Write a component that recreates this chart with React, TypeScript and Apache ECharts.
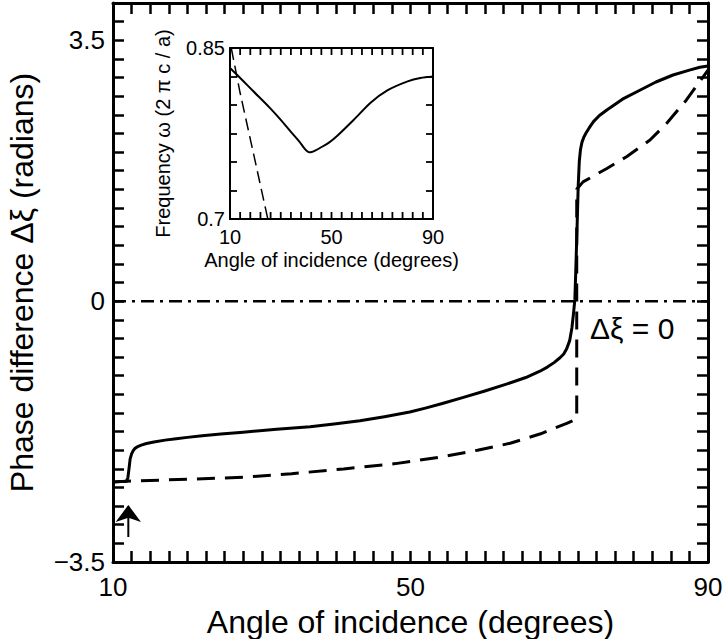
import React, { useEffect, useRef } from "react";
import * as echarts from "echarts";

const FONT = '"Liberation Sans", Arial, Helvetica, sans-serif';

// Main chart data
const mainSolidX = [10, 11.8, 12.0, 12.15, 12.3, 12.5, 12.75, 13.0, 13.4, 13.8, 14.5, 15.5, 17, 18.5, 20, 22, 24.5, 27.5, 32, 36.5, 40, 43.2, 46.5, 49.9, 52, 54.4, 57, 60, 63, 65.5, 67.4, 68.4, 69.3, 70.1, 70.6, 71.0, 71.4, 71.7, 71.9, 72.1, 72.25, 72.4, 72.55, 72.7, 72.85, 73.05, 73.3, 73.6, 74.0, 74.6, 75.4, 76.4, 78.5, 80.9, 83, 85.3, 87.5, 88.9, 90];
const mainSolidY = [-2.425, -2.415, -2.37, -2.25, -2.12, -2.05, -2.0, -1.972, -1.948, -1.932, -1.91, -1.89, -1.865, -1.845, -1.828, -1.805, -1.782, -1.758, -1.72, -1.685, -1.645, -1.604, -1.55, -1.488, -1.435, -1.37, -1.295, -1.205, -1.11, -1.025, -0.94, -0.885, -0.825, -0.76, -0.71, -0.64, -0.53, -0.36, -0.18, 0.02, 0.5, 1.0, 1.55, 1.88, 2.03, 2.13, 2.2, 2.255, 2.32, 2.408, 2.49, 2.565, 2.71, 2.833, 2.94, 3.034, 3.1, 3.138, 3.155];

const mainDashX = [10, 12.7, 20, 27.5, 34, 41, 48, 54.4, 59, 63.4, 67.5, 71.0, 72.35, 72.35, 73.2, 76.4, 79.05, 82.2, 84.45, 87.1, 89.35, 90];
const mainDashY = [-2.425, -2.413, -2.39, -2.363, -2.315, -2.252, -2.18, -2.087, -2.0, -1.907, -1.78, -1.64, -1.58, 1.5, 1.6, 1.78, 1.938, 2.162, 2.386, 2.699, 3.01, 3.1];

const zeroLineX = [10, 90];
const zeroLineY = [0, 0];

const arrowX = [12.06, 12.06];
const arrowY = [-3.165, -2.75];
const arrowHeadX = [12.06];
const arrowHeadY = [-2.735];

// Inset data
const insetSolidX = [10, 15, 19.2, 25.7, 30, 34, 37.5, 39, 40.2, 41.2, 42.2, 43.5, 45.6, 49, 52.3, 58.8, 65.4, 72, 80, 85, 90];
const insetSolidY = [0.8325, 0.8215, 0.812, 0.7975, 0.787, 0.7765, 0.7675, 0.7628, 0.7598, 0.7585, 0.7587, 0.76, 0.7625, 0.767, 0.773, 0.787, 0.802, 0.8128, 0.8207, 0.8237, 0.825];
const insetDashX = [10.5, 14, 19.2, 24.9];
const insetDashY = [0.85, 0.8105, 0.758, 0.7];

// Axis ranges
const mainXRange = [10, 90];
const mainYRange = [-3.5, 4];
const insetXRange = [10, 90];
const insetYRange = [0.7, 0.85];

// Tick labels and tick positions
const mainXLabels = [10, 50, 90];
const mainYLabelValues = [-3.5, 0, 3.5];
const mainYLabelTexts = ["\u22123.5", "0", "3.5"];
const insetXLabels = [10, 50, 90];
const insetXTicks = [10, 14, 18, 22, 26, 30, 34, 38, 42, 46, 50, 54, 58, 62, 66, 70, 74, 78, 82, 86, 90];
const insetYLabelValues = [0.7, 0.85];
const insetYLabelTexts = ["0.7", "0.85"];

const zip = (xs: number[], ys: number[]) => xs.map((x, i) => [x, ys[i]]);
const near = (a: number, b: number) => Math.abs(a - b) < 1e-6;

function xTickSeries(xi: number, yi: number, values: number[], yRange: number[], len: number, width: number) {
  return {
    type: "custom", xAxisIndex: xi, yAxisIndex: yi, clip: false, silent: true, z: 5,
    data: values.map((v) => [v, yRange[0]]),
    renderItem: (_p: any, api: any) => {
      const v = api.value(0);
      const a = api.coord([v, yRange[0]]);
      const b = api.coord([v, yRange[1]]);
      const style = { stroke: "#000", lineWidth: width, fill: null };
      return {
        type: "group",
        children: [
          { type: "line", shape: { x1: a[0], y1: a[1], x2: a[0], y2: a[1] - len }, style },
          { type: "line", shape: { x1: b[0], y1: b[1], x2: b[0], y2: b[1] + len }, style },
        ],
      };
    },
  };
}

export default function App() {
  const ref = useRef<HTMLDivElement>(null);
  useEffect(() => {
    document.body.style.margin = "0";
    if (!ref.current) return;
    const chart = echarts.init(ref.current, undefined, { renderer: "svg" });
    const black = "#000";
    const mainLine = () => ({ show: true, onZero: false, lineStyle: { color: black, width: 3 } });
    const insetLine = () => ({ show: true, onZero: false, lineStyle: { color: black, width: 2 } });
    const noTick = { show: false };
    const mainTick = () => ({ show: true, inside: true, length: 11, lineStyle: { color: "#000", width: 2.5 } });
    const insetTick = () => ({ show: true, inside: true, length: 7, lineStyle: { color: "#000", width: 1.8 } });
    const labelStyle = { color: black, fontFamily: FONT };

    const option: any = {
      animation: false,
      backgroundColor: "#fff",
      grid: [
        { left: 113, top: 3, width: 595, height: 559, show: false, containLabel: false, outerBoundsMode: "none" },
        {
          left: 230, top: 48, width: 203, height: 171, show: true, backgroundColor: "#fff",
          borderWidth: 0, containLabel: false, outerBoundsMode: "none",
        },
      ],
      xAxis: [
        {
          gridIndex: 0, type: "value", min: mainXRange[0], max: mainXRange[1], interval: 2.5, position: "bottom",
          axisLine: mainLine(), axisTick: mainTick(), splitLine: { show: false },
          axisLabel: {
            ...labelStyle, fontSize: 26, margin: 12,
            formatter: (v: number) => (mainXLabels.some((t) => near(t, v)) ? String(v) : ""),
          },
          name: "Angle of incidence (degrees)", nameLocation: "middle", nameGap: 44,
          nameTextStyle: { ...labelStyle, fontSize: 32 },
        },
        {
          gridIndex: 0, type: "value", min: mainXRange[0], max: mainXRange[1], interval: 2.5, position: "top",
          axisLine: mainLine(), axisTick: mainTick(), splitLine: { show: false }, axisLabel: { show: false },
        },
        {
          gridIndex: 1, type: "value", min: insetXRange[0], max: insetXRange[1], position: "bottom",
          axisLine: insetLine(), axisTick: noTick, splitLine: { show: false },
          axisLabel: { ...labelStyle, fontSize: 20, margin: 8, customValues: insetXLabels },
          name: "Angle of incidence (degrees)", nameLocation: "middle", nameGap: 31,
          nameTextStyle: { ...labelStyle, fontSize: 20 },
        },
        {
          gridIndex: 1, type: "value", min: insetXRange[0], max: insetXRange[1], position: "top",
          axisLine: insetLine(), axisTick: noTick, splitLine: { show: false }, axisLabel: { show: false },
        },
      ],
      yAxis: [
        {
          gridIndex: 0, type: "value", min: mainYRange[0], max: mainYRange[1], interval: 0.25, position: "left",
          axisLine: mainLine(), axisTick: mainTick(), splitLine: { show: false },
          axisLabel: {
            ...labelStyle, fontSize: 26, margin: 8,
            formatter: (v: number) => {
              const i = mainYLabelValues.findIndex((t) => near(t, v));
              return i >= 0 ? mainYLabelTexts[i] : "";
            },
          },
          name: "Phase difference \u0394\u03be (radians)", nameLocation: "middle", nameGap: 75,
          nameTextStyle: { ...labelStyle, fontSize: 32 },
        },
        {
          gridIndex: 0, type: "value", min: mainYRange[0], max: mainYRange[1], interval: 0.25, position: "right",
          axisLine: mainLine(), axisTick: mainTick(), splitLine: { show: false }, axisLabel: { show: false },
        },
        {
          gridIndex: 1, type: "value", min: insetYRange[0], max: insetYRange[1], interval: 0.025, position: "left",
          axisLine: insetLine(), axisTick: insetTick(), splitLine: { show: false },
          axisLabel: {
            ...labelStyle, fontSize: 20, margin: 5,
            formatter: (v: number) => {
              const i = insetYLabelValues.findIndex((t) => near(t, v));
              return i >= 0 ? insetYLabelTexts[i] : "";
            },
          },
          name: "Frequency \u03c9 (2 \u03c0 c / a)", nameLocation: "middle", nameGap: 57,
          nameTextStyle: { ...labelStyle, fontSize: 20 },
        },
        {
          gridIndex: 1, type: "value", min: insetYRange[0], max: insetYRange[1], interval: 0.025, position: "right",
          axisLine: insetLine(), axisTick: insetTick(), splitLine: { show: false }, axisLabel: { show: false },
        },
      ],
      series: [
        xTickSeries(2, 2, insetXTicks, insetYRange, 7, 1.8),
        {
          type: "line", xAxisIndex: 0, yAxisIndex: 0, data: zip(zeroLineX, zeroLineY), symbol: "none",
          lineStyle: { color: black, width: 2.5, type: [13, 6, 3, 6] },
        },
        {
          type: "line", xAxisIndex: 0, yAxisIndex: 0, data: zip(mainDashX, mainDashY), symbol: "none",
          lineStyle: { color: black, width: 3, type: [18, 10] },
        },
        {
          type: "line", xAxisIndex: 0, yAxisIndex: 0, data: zip(mainSolidX, mainSolidY), symbol: "none",
          lineStyle: { color: black, width: 3, join: "round" },
        },
        {
          type: "line", xAxisIndex: 0, yAxisIndex: 0, data: zip(arrowX, arrowY), symbol: "none",
          lineStyle: { color: black, width: 2 },
        },
        {
          type: "scatter", xAxisIndex: 0, yAxisIndex: 0, data: zip(arrowHeadX, arrowHeadY),
          symbol: "arrow", symbolSize: [19, 17], itemStyle: { color: black, opacity: 1 },
        },
        {
          type: "line", xAxisIndex: 2, yAxisIndex: 2, data: zip(insetSolidX, insetSolidY), symbol: "none",
          smooth: 0.3, lineStyle: { color: black, width: 2 },
        },
        {
          type: "line", xAxisIndex: 2, yAxisIndex: 2, data: zip(insetDashX, insetDashY), symbol: "none",
          lineStyle: { color: black, width: 1.5, type: [12, 6] },
        },
      ],
      graphic: [
        {
          type: "text", left: 590, top: 313,
          style: { text: "\u0394\u03be = 0", fontSize: 30, fill: black, fontFamily: FONT },
        },
      ],
    };
    chart.setOption(option);
    return () => chart.dispose();
  }, []);
  return <div ref={ref} style={{ width: 726, height: 639, position: "absolute", left: 0, top: 0 }} />;
}
